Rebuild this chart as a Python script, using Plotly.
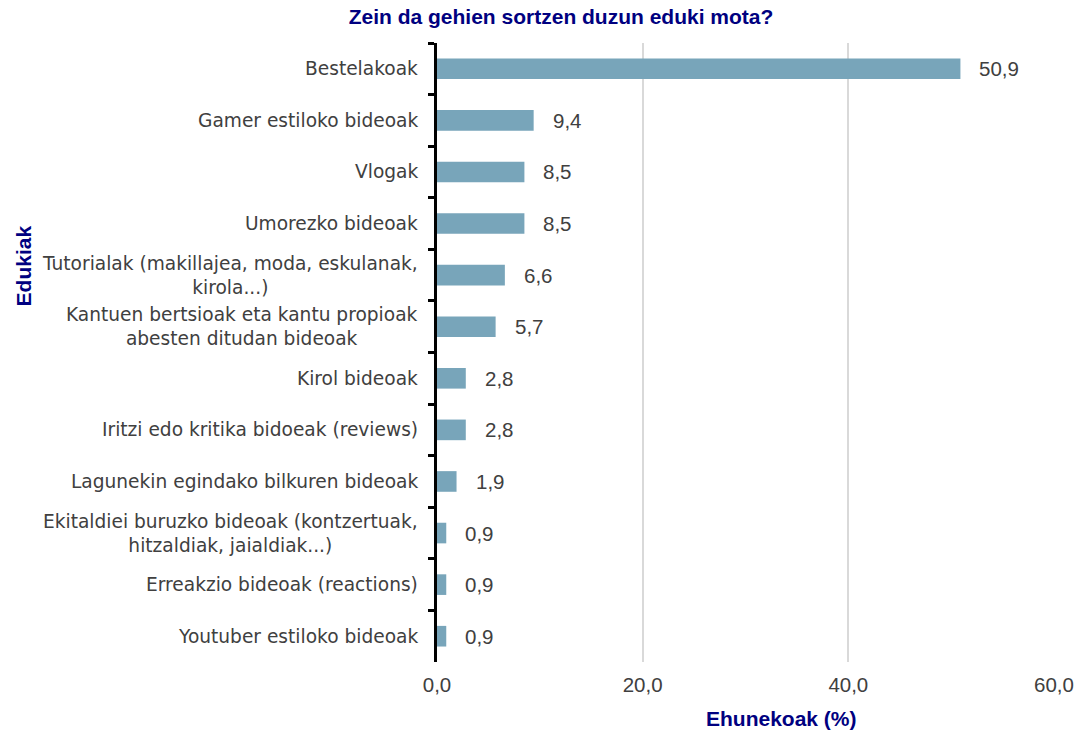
import plotly.graph_objects as go

categories = [
    "Bestelakoak",
    "Gamer estiloko bideoak",
    "Vlogak",
    "Umorezko bideoak",
    "Tutorialak (makillajea, moda, eskulanak,<br>kirola...)",
    "Kantuen bertsioak eta kantu propioak<br>abesten ditudan bideoak",
    "Kirol bideoak",
    "Iritzi edo kritika bidoeak (reviews)",
    "Lagunekin egindako bilkuren bideoak",
    "Ekitaldiei buruzko bideoak (kontzertuak,<br>hitzaldiak, jaialdiak...)",
    "Erreakzio bideoak (reactions)",
    "Youtuber estiloko bideoak",
]
values = [50.9, 9.4, 8.5, 8.5, 6.6, 5.7, 2.8, 2.8, 1.9, 0.9, 0.9, 0.9]
x_ticks = [0, 20, 40, 60]

title_text = "Zein da gehien sortzen duzun eduki mota?"
x_title = "Ehunekoak (%)"
y_title = "Edukiak"

navy = "#000080"
grey_text = "#404040"
bar_color = "#78A5BA"
arial = "Liberation Sans, Arial"

keys = [f"c{i}" for i in range(len(categories))]

fig = go.Figure(go.Bar(
    x=values, y=keys, orientation="h",
    marker=dict(color=bar_color, line=dict(width=0)),
    width=0.4,
))

annotations = []
for k, c, v in zip(keys, categories, values):
    annotations.append(dict(
        x=0, xref="paper", y=k, yref="y", text=c, showarrow=False,
        xanchor="right", yanchor="middle", align="center", xshift=-17,
        font=dict(family="DejaVu Sans", size=18.6, color=grey_text),
    ))
    annotations.append(dict(
        x=v, xref="x", y=k, yref="y", text=f"{v:.1f}".replace(".", ","),
        showarrow=False, xanchor="left", yanchor="middle", xshift=17,
        font=dict(family=arial, size=20.5, color=grey_text),
    ))

annotations.append(dict(
    x=-0.67, xref="paper", y=0.64, yref="paper", text=f"<b>{y_title}</b>",
    textangle=-90, showarrow=False, xanchor="center", yanchor="middle",
    font=dict(family=arial, size=21, color=navy),
))
annotations.append(dict(
    x=0.5586, xref="paper", y=-0.0905, yref="paper", text=f"<b>{x_title}</b>",
    showarrow=False, xanchor="center", yanchor="middle",
    font=dict(family=arial, size=21, color=navy),
))

fig.update_layout(
    width=1086, height=731,
    margin=dict(l=437, r=24, t=43, b=69),
    paper_bgcolor="white", plot_bgcolor="white",
    separators=",.",
    showlegend=False,
    title=dict(text=f"<b>{title_text}</b>", x=0.5166, xref="container", xanchor="center",
               y=1 - 17 / 731, yanchor="middle",
               font=dict(family=arial, size=21, color=navy)),
    annotations=annotations,
    xaxis=dict(
        range=[0, 60], tickvals=x_ticks, tickformat=".1f",
        showgrid=True, gridcolor="#d9d9d9", gridwidth=2,
        zeroline=False, showline=False, ticks="",
        ticklabelstandoff=8,
        tickfont=dict(family=arial, size=20.5, color=grey_text),
        fixedrange=True,
    ),
    yaxis=dict(
        categoryorder="array", categoryarray=keys, autorange="reversed",
        showticklabels=False, showline=True, linecolor="black", linewidth=3,
        ticks="outside", tickson="boundaries", ticklen=6, tickwidth=3, tickcolor="black",
        showgrid=False, zeroline=False, fixedrange=True,
    ),
)

fig.write_html(
    "out.html",
    config={"displayModeBar": False, "responsive": False},
    post_script="document.body.style.margin='0px';document.body.style.overflow='hidden';",
)
